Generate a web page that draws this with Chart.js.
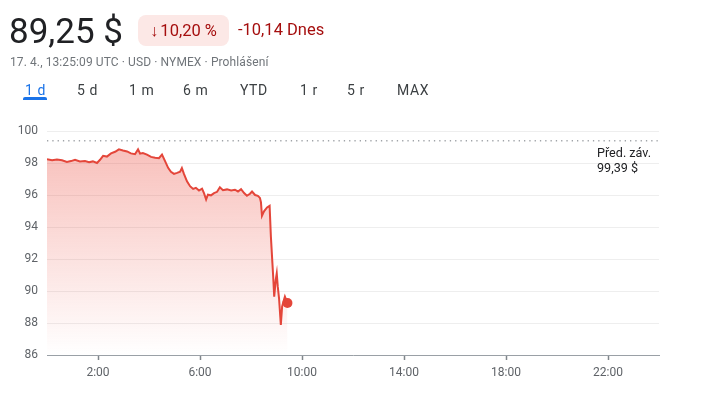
<!DOCTYPE html>
<html lang="cs">
<head>
<meta charset="utf-8">
<script src="https://cdn.jsdelivr.net/npm/chart.js@4"></script>
<style>
  body { margin: 0; background: #fff; width: 701px; height: 394px; overflow: hidden; font-family: Roboto, "Noto Sans", sans-serif; }
  #wrap { position: relative; width: 701px; height: 394px; }
  canvas { position: absolute; left: 0; top: 0; }
  .t { position: absolute; white-space: nowrap; }
  .price { left: 9px; top: 11px; font-size: 35px; color: #202124; }
  .badge { left: 138px; top: 15px; width: 91px; height: 31px; border-radius: 8px; background: #fce8e6; color: #a50e0e; font-size: 16.5px; line-height: 31px; text-align: center; }
  .badge span { margin-right: 2px; }
  .chg { left: 238px; top: 20px; font-size: 16.5px; color: #a50e0e; }
  .sub { left: 10px; top: 55px; font-size: 12px; color: #70757a; letter-spacing: 0.1px; }
  .tab { top: 82px; font-size: 14px; color: #3c4043; letter-spacing: 0.6px; }
  .tab.on { color: #1a73e8; }
  .uline { position: absolute; left: 23px; top: 97px; width: 24px; height: 3px; background: #1a73e8; border-radius: 2px 2px 0 0; }
  .prev { left: 597px; top: 145px; font-size: 12.6px; line-height: 15px; color: #202124; }
</style>
</head>
<body>
<div id="wrap">
  <canvas id="chart" width="701" height="394"></canvas>
  <div class="t price">89,25 $</div>
  <div class="t badge"><span>↓</span>10,20 %</div>
  <div class="t chg">-10,14 Dnes</div>
  <div class="t sub">17. 4., 13:25:09 UTC · USD · NYMEX · Prohlášení</div>
  <div class="t tab on" style="left:25px">1 d</div>
  <div class="uline"></div>
  <div class="t tab" style="left:77px">5 d</div>
  <div class="t tab" style="left:129px">1 m</div>
  <div class="t tab" style="left:183px">6 m</div>
  <div class="t tab" style="left:240px">YTD</div>
  <div class="t tab" style="left:300px">1 r</div>
  <div class="t tab" style="left:347px">5 r</div>
  <div class="t tab" style="left:397px">MAX</div>
  <div class="t prev">Před. záv.<br>99,39 $</div>
</div>
<script>
// time of day in hours, price in USD
const hours = [0.00, 0.20, 0.39, 0.59, 0.78, 0.94, 1.10, 1.29, 1.49, 1.65, 1.80, 1.96,
  2.08, 2.20, 2.35, 2.51, 2.67, 2.82, 2.98, 3.14, 3.29, 3.45, 3.57, 3.65, 3.76, 3.92,
  4.08, 4.24, 4.39, 4.51, 4.63, 4.75, 4.86, 4.98, 5.10, 5.22, 5.29, 5.37, 5.49, 5.61,
  5.73, 5.84, 5.96, 6.08, 6.16, 6.24, 6.31, 6.43, 6.55, 6.67, 6.78, 6.90, 7.06, 7.22,
  7.37, 7.49, 7.61, 7.73, 7.84, 7.96, 8.04, 8.16, 8.27, 8.35, 8.39, 8.43, 8.51, 8.63,
  8.73, 8.78, 8.84, 8.87, 8.91, 8.97, 9.01, 9.05, 9.10, 9.17, 9.22, 9.27, 9.33, 9.43];
const prices = [98.23, 98.18, 98.22, 98.17, 98.07, 98.12, 98.20, 98.10, 98.12, 98.05, 98.10, 98.00,
  98.20, 98.45, 98.40, 98.60, 98.70, 98.85, 98.78, 98.72, 98.60, 98.55, 98.85, 98.58, 98.62, 98.52,
  98.38, 98.33, 98.30, 98.52, 98.12, 97.70, 97.45, 97.32, 97.38, 97.45, 97.68, 97.32, 96.85, 96.55,
  96.38, 96.45, 96.28, 96.40, 96.10, 95.72, 96.02, 95.98, 96.12, 96.20, 96.48, 96.30, 96.35, 96.28,
  96.33, 96.22, 96.36, 96.12, 95.95, 96.08, 96.22, 96.00, 95.95, 95.82, 95.55, 94.70, 94.98, 95.22,
  95.32, 93.40, 91.73, 90.90, 89.65, 90.69, 91.10, 90.27, 89.54, 87.88, 89.02, 89.33, 89.65, 89.25];
const prevClose = 99.39;
const xTicks = [2, 6, 10, 14, 18, 22];
const yMin = 86, yMax = 100, yStep = 2;

const red = '#e4463a';
const series = hours.map((h, i) => ({ x: h, y: prices[i] }));
const last = series[series.length - 1];

new Chart(document.getElementById('chart'), {
  type: 'line',
  data: {
    datasets: [{
      data: series,
      borderColor: red,
      borderWidth: 2,
      pointRadius: 0,
      tension: 0,
      fill: 'start',
      backgroundColor: function (c) {
        const a = c.chart.chartArea;
        if (!a) return 'rgba(234,67,53,0.2)';
        const g = c.chart.ctx.createLinearGradient(0, a.top, 0, a.bottom);
        g.addColorStop(0, 'rgba(234,67,53,0.36)');
        g.addColorStop(1, 'rgba(234,67,53,0.0)');
        return g;
      }
    }, {
      data: [{ x: 0, y: prevClose }, { x: 23.95, y: prevClose }],
      borderColor: '#a0a4a8',
      borderWidth: 1.3,
      borderDash: [1.3, 4],
      pointRadius: 0,
      fill: false
    }, {
      data: [last],
      pointRadius: 5,
      pointBackgroundColor: red,
      pointBorderWidth: 0,
      showLine: false
    }]
  },
  options: {
    responsive: false,
    animation: false,
    layout: { padding: { top: 131, right: 42, left: 0, bottom: 0 } },
    plugins: { legend: { display: false }, tooltip: { enabled: false } },
    scales: {
      x: {
        type: 'linear',
        min: 0,
        max: 24,
        afterBuildTicks: s => { s.ticks = xTicks.map(v => ({ value: v })); },
        afterFit: s => { s.height = 39; },
        grid: { drawOnChartArea: false, drawTicks: true, tickLength: 5, tickColor: '#80868b', tickWidth: 1.5 },
        border: { display: true, color: '#9aa0a6', width: 1 },
        ticks: {
          padding: 6,
          color: '#5f6368',
          font: { family: 'Roboto', size: 12 },
          callback: v => v + ':00'
        }
      },
      y: {
        min: yMin,
        max: yMax,
        afterFit: s => { s.width = 47; },
        grid: { color: '#eeeeee', drawTicks: false },
        border: { display: false },
        ticks: {
          stepSize: yStep,
          padding: 9,
          color: '#5f6368',
          font: { family: 'Roboto', size: 12 }
        }
      }
    }
  }
});
</script>
</body>
</html>
